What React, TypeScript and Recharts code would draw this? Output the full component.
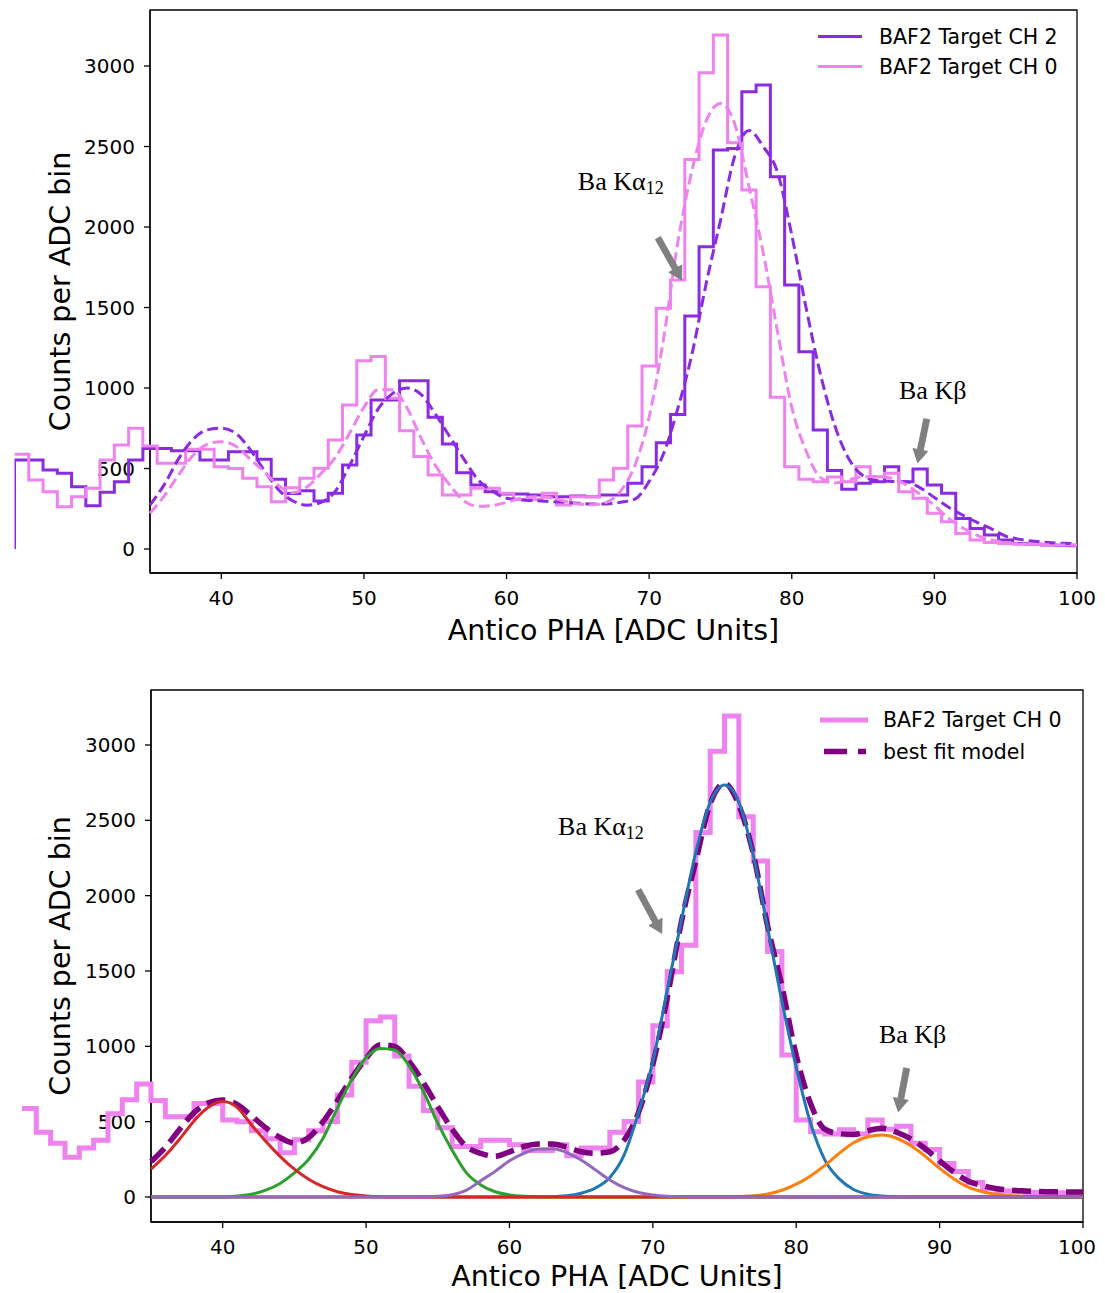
import React from "react";
import { Legend, Line, LineChart, ReferenceArea, ReferenceDot, ReferenceLine, XAxis, YAxis } from "recharts";

const W = 1097;
const FONT = "'DejaVu Sans', sans-serif";
const SERIF = "'Liberation Serif', 'DejaVu Serif', serif";

const CH2_COLOR = "#8a2be2";
const CH0_COLOR = "#ee82ee";
const FIT_COLOR = "#800080";
const ARROW_COLOR = "#808080";

// x range of the frame, bins are 1 ADC unit wide
const xMin = 35;
const xMax = 100;
const topBinStart = 25.5;
const bottomBinStart = 26; // lower panel is shifted half a bin
const fitStart = 35; // fit curves sampled once per ADC unit from here

const xTicks = [40, 50, 60, 70, 80, 90, 100];
const yTicks = [0, 500, 1000, 1500, 2000, 2500, 3000];

// histogram counts, one per bin
const ch2Counts = [
  553, 553, 490, 470, 387, 269, 352, 418, 553, 625,
  625, 610, 610, 553, 553, 604, 604, 558, 433, 345,
  362, 298, 346, 522, 708, 925, 925, 1045, 1045, 818,
  652, 474, 398, 356, 342, 342, 335, 325, 325, 330,
  325, 335, 335, 408, 511, 660, 836, 1447, 1878, 2478,
  2488, 2841, 2882, 2313, 1640, 1226, 739, 487, 371, 408,
  418, 511, 418, 497, 398, 346, 190, 128, 87, 56,
  35, 30, 25, 22, 20,
];
const ch0Counts = [
  588, 429, 356, 263, 325, 377, 553, 646, 750, 640,
  532, 532, 620, 620, 511, 500, 439, 387, 294, 380,
  439, 501, 677, 894, 1170, 1195, 936, 735, 574, 460,
  335, 335, 377, 377, 346, 308, 308, 346, 273, 325,
  325, 429, 501, 764, 1137, 1495, 1671, 2420, 2959, 3193,
  2524, 2230, 1629, 942, 511, 433, 418, 447, 418, 511,
  449, 470, 356, 315, 222, 170, 97, 56, 40, 35,
  30, 30, 28, 25, 25,
];

// fitted models, x = 35 .. 100
const ch2Fit = [
  273, 400, 560, 680, 740, 750, 720, 620, 490, 370,
  300, 272, 290, 360, 520, 700, 870, 965, 1000, 960,
  840, 700, 560, 430, 360, 315, 305, 300, 295, 290,
  285, 280, 280, 290, 310, 420, 590, 870, 1210, 1650,
  2040, 2440, 2600, 2500, 2340, 1950, 1500, 1090, 770, 560,
  455, 425, 420, 418, 380, 320, 260, 210, 165, 125,
  80, 60, 48, 40, 36, 34,
];
const ch0Fit = [
  222, 330, 460, 580, 650, 667, 640, 560, 480, 395,
  350, 385, 470, 570, 720, 880, 990, 990, 880, 690,
  520, 400, 300, 265, 270, 290, 315, 325, 320, 300,
  280, 275, 290, 360, 520, 820, 1300, 1900, 2350, 2660,
  2768, 2640, 2250, 1840, 1350, 880, 610, 445, 410, 430,
  449, 450, 440, 400, 340, 270, 190, 130, 85, 56,
  40, 32, 28, 26, 25, 25,
];
const bestFit = [
  234, 330, 450, 560, 625, 644, 615, 540, 460, 395,
  358, 395, 500, 640, 790, 920, 1010, 1000, 900, 760,
  600, 450, 334, 290, 270, 300, 335, 352, 352, 330,
  300, 290, 300, 378, 560, 880, 1320, 1830, 2230, 2610,
  2745, 2600, 2280, 1800, 1400, 940, 620, 450, 420, 415,
  440, 456, 430, 385, 320, 240, 165, 105, 75, 55,
  45, 40, 36, 34, 33, 33,
];

// individual peaks (zero outside the listed range)
const redStart = 35;
const redPeak = [185, 275, 385, 505, 595, 633, 595, 480, 370, 270, 185, 118, 68, 35, 16, 7, 2];
const greenStart = 41;
const greenPeak = [6, 18, 45, 90, 160, 250, 390, 590, 780, 925, 985, 975, 870, 700, 490, 310, 160, 80, 35, 14, 5, 2];
const purpleStart = 55;
const purplePeak = [5, 15, 45, 108, 170, 240, 290, 318, 320, 295, 245, 180, 113, 62, 30, 13, 5, 2];
const blueStart = 63;
const bluePeak = [3, 8, 25, 60, 130, 280, 560, 900, 1370, 1840, 2290, 2620, 2735, 2620, 2270, 1790, 1300, 860, 490, 245, 120, 50, 18, 6, 2];
const orangeStart = 76;
const orangePeak = [3, 8, 20, 45, 85, 140, 210, 290, 360, 400, 411, 390, 340, 270, 190, 120, 65, 35, 18, 8, 3, 1];

type Pt = { x: number; y: number };

const histPoints = (counts: number[], start: number, fromZero: boolean): Pt[] => {
  const pts: Pt[] = [];
  if (fromZero) pts.push({ x: start, y: 0 });
  counts.forEach((c, i) => {
    if (start + i < xMax) pts.push({ x: start + i, y: c });
  });
  pts.push({ x: xMax, y: pts[pts.length - 1].y });
  return pts;
};

const curvePoints = (vals: number[]): Pt[] => vals.map((v, i) => ({ x: fitStart + i, y: v }));

const peakPoints = (start: number, vals: number[]): Pt[] => {
  const pts: Pt[] = [];
  for (let x = xMin; x <= xMax; x++) {
    const i = x - start;
    pts.push({ x, y: i >= 0 && i < vals.length ? vals[i] : 0 });
  }
  return pts;
};

const frameData = [{ x: xMin, y: 0 }, { x: xMax, y: 0 }];

const tickStyle = { fill: "#000", fontSize: 20, fontFamily: FONT };
const axisStyle = { stroke: "#000", strokeWidth: 1.3 };

// x tick label, kept inside the page on the right
const XTick = (props: any) => {
  const { x, y, payload } = props;
  return (
    <text x={Math.min(x, W - 28)} y={y} dy="0.71em" textAnchor="middle" fill="#000" fontSize={20} fontFamily={FONT}>
      {payload.value}
    </text>
  );
};

type Panel = {
  height: number;
  top: number;
  plotH: number;
  right: number;
  yAxisW: number;
  yDomain: [number, number];
  binStart: number;
  labelOffset: number;
};

const topPanel: Panel = { height: 650, top: 2, plotH: 563, right: 28, yAxisW: 142, yDomain: [-149, 3348], binStart: topBinStart, labelOffset: 3 };
const bottomPanel: Panel = { height: 635, top: 32, plotH: 532, right: 22, yAxisW: 143, yDomain: [-166, 3365], binStart: bottomBinStart, labelOffset: 6 };

const AxesChart = ({ p }: { p: Panel }) => (
  <LineChart width={W} height={p.height} margin={{ top: p.top, right: p.right, bottom: p.height - p.top - p.plotH - 70, left: 0 }}>
    <XAxis
      type="number"
      dataKey="x"
      domain={[xMin, xMax]}
      ticks={xTicks}
      allowDataOverflow
      height={70}
      tickSize={6}
      tickMargin={12}
      tick={<XTick />}
      axisLine={axisStyle}
      tickLine={axisStyle}
      label={{ value: "Antico PHA [ADC Units]", position: "insideBottom", offset: p.labelOffset, fill: "#000", fontSize: 28.5, fontFamily: FONT }}
    />
    <YAxis
      type="number"
      domain={p.yDomain}
      ticks={yTicks}
      allowDataOverflow
      width={p.yAxisW}
      tickSize={6}
      tickMargin={9}
      tick={tickStyle}
      axisLine={axisStyle}
      tickLine={axisStyle}
      label={{ value: "Counts per ADC bin", angle: -90, position: "insideLeft", offset: 52, fill: "#000", fontSize: 28.5, fontFamily: FONT, style: { textAnchor: "middle" } }}
    />
    <ReferenceArea x1={xMin} x2={xMax} y1={p.yDomain[0]} y2={p.yDomain[1]} fill="none" stroke="#000" strokeWidth={1.3} ifOverflow="visible" />
    <Line data={frameData} dataKey="y" stroke="none" dot={false} isAnimationActive={false} />
  </LineChart>
);

const arrowShape = (props: any) => {
  const { x1, y1, x2, y2 } = props;
  const len = Math.hypot(x2 - x1, y2 - y1);
  const ux = (x2 - x1) / len;
  const uy = (y2 - y1) / len;
  const nx = -uy;
  const ny = ux;
  const shaft = 3;
  const head = 7.5;
  const headLen = 13;
  const bx = x2 - ux * headLen;
  const by = y2 - uy * headLen;
  const pts = [
    [x1 + nx * shaft, y1 + ny * shaft],
    [bx + nx * shaft, by + ny * shaft],
    [bx + nx * head, by + ny * head],
    [x2, y2],
    [bx - nx * head, by - ny * head],
    [bx - nx * shaft, by - ny * shaft],
    [x1 - nx * shaft, y1 - ny * shaft],
  ];
  return <polygon points={pts.map((q) => q.join(",")).join(" ")} fill={ARROW_COLOR} stroke="#777" strokeWidth={0.8} />;
};

const labelShape = (main: string, sub?: string) => (props: any) => (
  <text x={props.cx} y={props.cy} fontFamily={SERIF} fontSize={26} fill="#000">
    {main}
    {sub ? (
      <tspan fontSize={18} dy={4}>
        {sub}
      </tspan>
    ) : null}
  </text>
);

type Note = { x: number; y: number; main: string; sub?: string; from: Pt; to: Pt };

const topNotes: Note[] = [
  { x: 65.0, y: 2230, main: "Ba K\u03b1", sub: "12", from: { x: 70.62, y: 1932 }, to: { x: 72.28, y: 1671 } },
  { x: 87.52, y: 932, main: "Ba K\u03b2", from: { x: 89.46, y: 806 }, to: { x: 88.83, y: 536 } },
];
const bottomNotes: Note[] = [
  { x: 63.39, y: 2403, main: "Ba K\u03b1", sub: "12", from: { x: 68.99, y: 2037 }, to: { x: 70.62, y: 1750 } },
  { x: 85.77, y: 1022, main: "Ba K\u03b2", from: { x: 87.7, y: 854 }, to: { x: 87.12, y: 566 } },
];

const overlayLeft = (p: Panel) => {
  const plotW = W - p.yAxisW - p.right;
  return p.yAxisW - ((xMin - p.binStart) * plotW) / (xMax - xMin);
};

const notesFor = (notes: Note[]) =>
  notes.flatMap((n, i) => [
    <ReferenceDot key={`t${i}`} x={n.x} y={n.y} r={0} shape={labelShape(n.main, n.sub)} />,
    <ReferenceLine key={`a${i}`} segment={[n.from, n.to]} shape={arrowShape} />,
  ]);

const TopLegend = () => (
  <svg width={290} height={72} style={{ display: "block" }}>
    <line x1={18} x2={62} y1={26.5} y2={26.5} stroke={CH2_COLOR} strokeWidth={3} />
    <text x={79} y={26.5} dominantBaseline="central" fontFamily={FONT} fontSize={20.5} fill="#000">
      BAF2 Target CH 2
    </text>
    <line x1={18} x2={62} y1={56.5} y2={56.5} stroke={CH0_COLOR} strokeWidth={3} />
    <text x={79} y={56.5} dominantBaseline="central" fontFamily={FONT} fontSize={20.5} fill="#000">
      BAF2 Target CH 0
    </text>
  </svg>
);

const BottomLegend = () => (
  <svg width={290} height={72} style={{ display: "block" }}>
    <line x1={20} x2={68} y1={20} y2={20} stroke={CH0_COLOR} strokeWidth={5} />
    <text x={83} y={20} dominantBaseline="central" fontFamily={FONT} fontSize={20.5} fill="#000">
      BAF2 Target CH 0
    </text>
    <line x1={24} x2={66} y1={51.5} y2={51.5} stroke={FIT_COLOR} strokeWidth={5.5} strokeDasharray="23 11" />
    <text x={83} y={51.5} dominantBaseline="central" fontFamily={FONT} fontSize={20.5} fill="#000">
      best fit model
    </text>
  </svg>
);

const TopOverlay = () => {
  const p = topPanel;
  return (
    <LineChart width={W} height={p.height} margin={{ top: p.top, right: p.right, bottom: p.height - p.top - p.plotH, left: overlayLeft(p) }}>
      <XAxis type="number" dataKey="x" domain={[p.binStart, xMax]} allowDataOverflow hide />
      <YAxis type="number" domain={p.yDomain} allowDataOverflow hide />
      <Line data={histPoints(ch2Counts, topBinStart, true)} dataKey="y" type="stepAfter" stroke={CH2_COLOR} strokeWidth={3} dot={false} isAnimationActive={false} />
      <Line data={histPoints(ch0Counts, topBinStart, false)} dataKey="y" type="stepAfter" stroke={CH0_COLOR} strokeWidth={3} dot={false} isAnimationActive={false} />
      <Line data={curvePoints(ch2Fit)} dataKey="y" type="monotone" stroke={CH2_COLOR} strokeWidth={3} strokeDasharray="11 5" dot={false} isAnimationActive={false} />
      <Line data={curvePoints(ch0Fit)} dataKey="y" type="monotone" stroke={CH0_COLOR} strokeWidth={3} strokeDasharray="11 5" dot={false} isAnimationActive={false} />
      {notesFor(topNotes)}
      <Legend layout="vertical" align="center" verticalAlign="middle" wrapperStyle={{ left: 792, top: 2, width: 290, height: 72 }} content={() => <TopLegend />} />
    </LineChart>
  );
};

const BottomOverlay = () => {
  const p = bottomPanel;
  return (
    <LineChart width={W} height={p.height} margin={{ top: p.top, right: p.right, bottom: p.height - p.top - p.plotH, left: overlayLeft(p) }}>
      <XAxis type="number" dataKey="x" domain={[p.binStart, xMax]} allowDataOverflow hide />
      <YAxis type="number" domain={p.yDomain} allowDataOverflow hide />
      <Line data={histPoints(ch0Counts, bottomBinStart, false)} dataKey="y" type="stepAfter" stroke={CH0_COLOR} strokeWidth={5} dot={false} isAnimationActive={false} />
      <Line data={curvePoints(bestFit)} dataKey="y" type="monotone" stroke={FIT_COLOR} strokeWidth={5.5} strokeDasharray="19 8" dot={false} isAnimationActive={false} />
      <Line data={peakPoints(blueStart, bluePeak)} dataKey="y" type="monotone" stroke="#1f77b4" strokeWidth={3} dot={false} isAnimationActive={false} />
      <Line data={peakPoints(orangeStart, orangePeak)} dataKey="y" type="monotone" stroke="#ff7f0e" strokeWidth={3} dot={false} isAnimationActive={false} />
      <Line data={peakPoints(greenStart, greenPeak)} dataKey="y" type="monotone" stroke="#2ca02c" strokeWidth={3} dot={false} isAnimationActive={false} />
      <Line data={peakPoints(redStart, redPeak)} dataKey="y" type="monotone" stroke="#d62728" strokeWidth={3} dot={false} isAnimationActive={false} />
      <Line data={peakPoints(purpleStart, purplePeak)} dataKey="y" type="monotone" stroke="#9467bd" strokeWidth={3} dot={false} isAnimationActive={false} />
      {notesFor(bottomNotes)}
      <Legend layout="vertical" align="center" verticalAlign="middle" wrapperStyle={{ left: 792, top: 42, width: 290, height: 72 }} content={() => <BottomLegend />} />
    </LineChart>
  );
};

export default function App() {
  return (
    <div style={{ position: "relative", width: W, height: 1285 }}>
      <div style={{ position: "absolute", left: 0, top: 0, lineHeight: 0 }}>
        <AxesChart p={topPanel} />
      </div>
      <div style={{ position: "absolute", left: 0, top: 0, lineHeight: 0 }}>
        <TopOverlay />
      </div>
      <div style={{ position: "absolute", left: 0, top: 650, lineHeight: 0 }}>
        <AxesChart p={bottomPanel} />
      </div>
      <div style={{ position: "absolute", left: 0, top: 650, lineHeight: 0 }}>
        <BottomOverlay />
      </div>
    </div>
  );
}
